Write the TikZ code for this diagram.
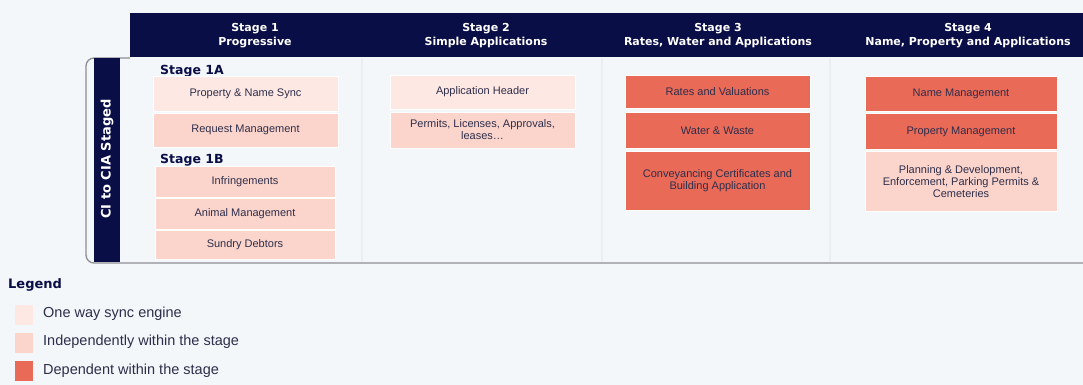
\documentclass[tikz,border=0pt]{standalone}
\usepackage{fontspec}
\setmainfont{Liberation Sans}
\newfontfamily\headfont{DejaVu Sans}
\usepackage{tikz}
\usetikzlibrary{positioning}
\definecolor{CINavy}{RGB}{10,14,70}
\definecolor{CIBack}{RGB}{244,247,250}
\definecolor{CILine}{RGB}{234,239,244}
\definecolor{CIBorder}{RGB}{140,142,148}
\definecolor{CIText}{RGB}{46,46,74}
\definecolor{CISync}{RGB}{253,232,227}
\definecolor{CIIndep}{RGB}{251,213,204}
\definecolor{CIDep}{RGB}{234,106,88}

\begin{document}
\begin{tikzpicture}[x=1pt, y=-1pt,
          head/.style={font=\headfont\bfseries\fontsize{11}{14}\selectfont,
                       text=white, align=center},
          sub/.style={font=\headfont\bfseries\fontsize{12.5}{14}\selectfont,
                      text=CINavy, anchor=west, inner sep=0pt},
          box/.style={rectangle, draw=white, line width=0.8pt, inner sep=0pt,
                      font=\fontsize{11}{12}\selectfont, text=CIText,
                      align=center},
          sync/.style={box, fill=CISync},
          indep/.style={box, fill=CIIndep},
          dep/.style={box, fill=CIDep},
          swatch/.style={rectangle, inner sep=0pt, minimum width=18pt,
                         minimum height=20pt},
          legtext/.style={font=\fontsize{14.5}{16}\selectfont, text=CIText,
                          anchor=west, inner sep=0pt}
        ]
        \useasboundingbox (0,0) rectangle (1083,385);
        \fill[CIBack] (0,0) rectangle (1083,385);

        % Panel and column lines
        \foreach \x in {362, 602, 830} {
          \draw[CILine, line width=1.5pt] (\x,58) -- (\x,262);
        }
        \draw[CIBorder, line width=1.3pt, rounded corners=8pt]
              (130,58) -- (86,58) -- (86,263) -- (1083,263);
        \fill[CINavy] (130,13) rectangle (1083,57);
        \fill[CINavy] (94,58) rectangle (120,262);
        \node[font=\headfont\bfseries\fontsize{13}{15}\selectfont, text=white,
              rotate=90] (side) at (107,159) {CI to CIA Staged};

        % Stage headers
        \node[head] (h1) at (255,36) {Stage 1\\Progressive};
        \node[head] (h2) at (486,36) {Stage 2\\Simple Applications};
        \node[head] (h3) at (718,36) {Stage 3\\Rates, Water and Applications};
        \node[head] (h4) at (968,36) {Stage 4\\Name, Property and Applications};

        % Stage 1
        \node[sub] (s1a) at (160,71) {Stage 1A};
        \node[sync, minimum width=185pt, minimum height=35pt] (pns)
              at (245.5,93.5) {Property \& Name Sync};
        \node[indep, minimum width=185pt, minimum height=34pt] (req)
              at (245.5,130) {Request Management};
        \node[sub] (s1b) at (160,160) {Stage 1B};
        \node[indep, minimum width=180pt, minimum height=31pt] (inf)
              at (245,182) {Infringements};
        \node[indep, minimum width=180pt, minimum height=31pt] (ani)
              at (245,214) {Animal Management};
        \node[indep, minimum width=180pt, minimum height=29pt] (sun)
              at (245,245) {Sundry Debtors};

        % Stage 2
        \node[sync, minimum width=185pt, minimum height=34pt] (apph)
              at (482.5,92) {Application Header};
        \node[indep, minimum width=185pt, minimum height=36pt] (perm)
              at (482.5,130) {Permits, Licenses, Approvals,\\leases\dots};

        % Stage 3
        \node[dep, minimum width=185pt, minimum height=33pt] (rates)
              at (717.5,92) {Rates and Valuations};
        \node[dep, minimum width=185pt, minimum height=36pt] (water)
              at (717.5,130.5) {Water \& Waste};
        \node[dep, minimum width=185pt, minimum height=59pt] (conv)
              at (717.5,181) {Conveyancing Certificates and\\Building Application};

        % Stage 4
        \node[dep, minimum width=192pt, minimum height=35pt] (name)
              at (961,94) {Name Management};
        \node[dep, minimum width=192pt, minimum height=36pt] (prop)
              at (961,131.5) {Property Management};
        \node[indep, minimum width=192pt, minimum height=60pt] (plan)
              at (961,181.5) {Planning \& Development,\\Enforcement, Parking Permits \&\\Cemeteries};

        % Legend
        \node[font=\headfont\bfseries\fontsize{13}{15}\selectfont, text=CINavy,
              anchor=west, inner sep=0pt] (leg) at (8,285) {Legend};
        \node[swatch, fill=CISync] (k1) at (24,315) {};
        \node[swatch, fill=CIIndep] (k2) at (24,343) {};
        \node[swatch, fill=CIDep] (k3) at (24,371) {};
        \node[legtext] (t1) at (43,314) {One way sync engine};
        \node[legtext] (t2) at (43,342) {Independently within the stage};
        \node[legtext] (t3) at (43,371) {Dependent within the stage};
      \end{tikzpicture}
\end{document}
